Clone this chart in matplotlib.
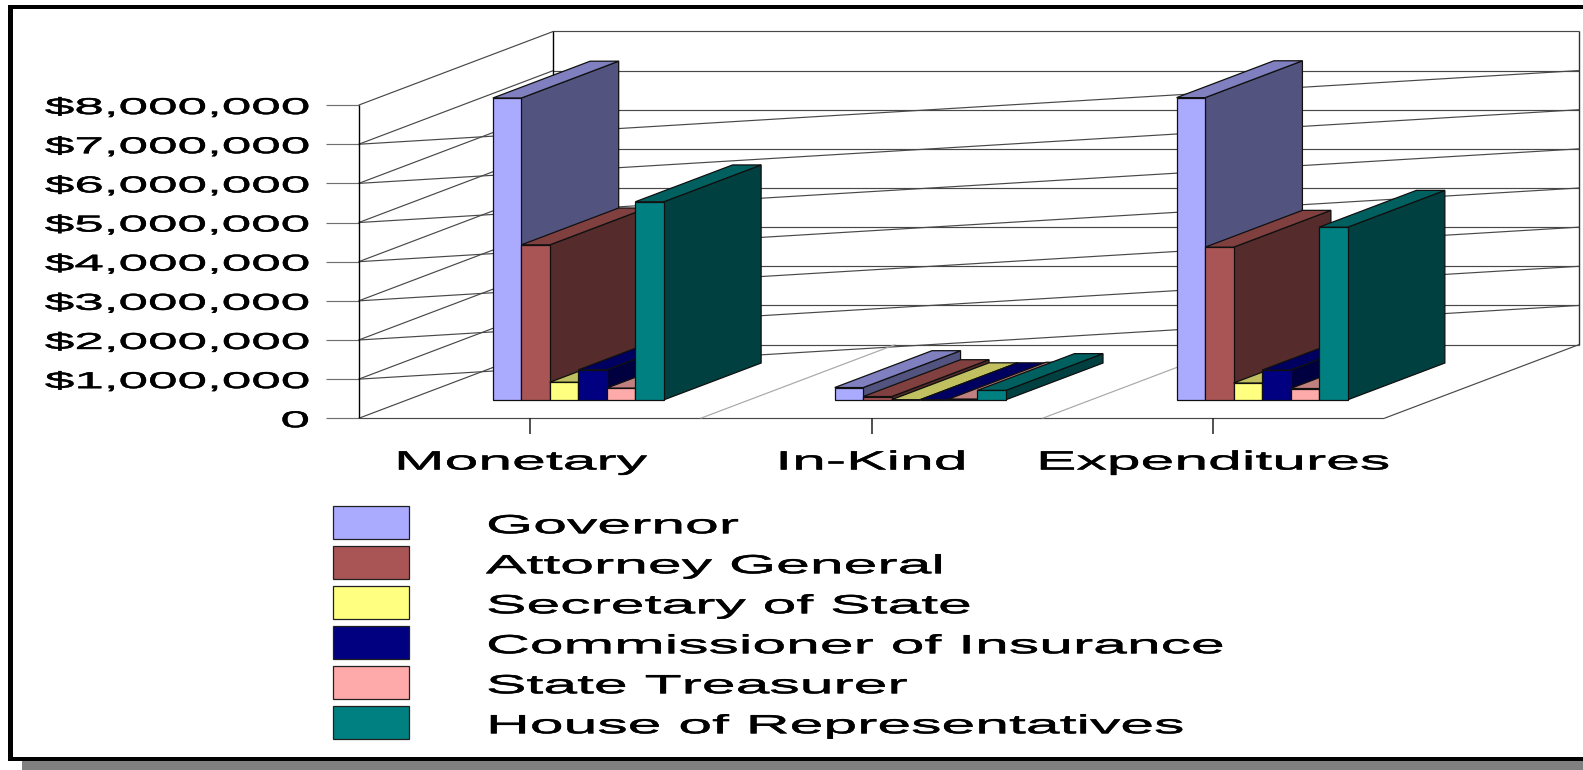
import matplotlib
matplotlib.use("Agg")
import matplotlib.pyplot as plt
from matplotlib import font_manager as fm
from matplotlib import patheffects as pe
from matplotlib.patches import Polygon, Rectangle
from fontTools.ttLib import TTFont

# ---------- data ----------
categories = ["Monetary", "In-Kind", "Expenditures"]
series_names = ["Governor", "Attorney General", "Secretary of State",
                "Commissioner of Insurance", "State Treasurer",
                "House of Representatives"]
governor = [7710000, 315000, 7720000]
attorney_general = [3960000, 85000, 3900000]
secretary_of_state = [450000, 5000, 430000]
commissioner = [766000, 5000, 760000]
treasurer = [300000, 20000, 290000]
house = [5060000, 240000, 4410000]
series_values = [governor, attorney_general, secretary_of_state,
                 commissioner, treasurer, house]
axis_values = [0, 1000000, 2000000, 3000000, 4000000, 5000000, 6000000, 7000000, 8000000]
axis_labels = ["0", "$1,000,000", "$2,000,000", "$3,000,000", "$4,000,000",
               "$5,000,000", "$6,000,000", "$7,000,000", "$8,000,000"]

# ---------- style ----------
front_colors = ["#AAAAFF", "#AA5555", "#FFFF80", "#000080", "#FFAAAA", "#008080"]
top_colors = ["#8080C0", "#804040", "#C0C060", "#000060", "#C08080", "#006060"]
side_colors = ["#535380", "#552B2B", "#808040", "#000040", "#805555", "#004040"]

W, H = 1583, 770
PLOT_L, CAT_W = 358.7, 341.87
FLOOR_Y, UNIT_H = 418.3, 39.15
DEPTH_X, DEPTH_Y = 194.7, 73.7
N_SERIES = len(series_names)


def stretched_font(factor, family):
    """Liberation Sans widened horizontally, as in the reference's stretched picture."""
    src = fm.findfont("Liberation Sans")
    font = TTFont(src)
    glyf = font["glyf"]
    hmtx = font["hmtx"]
    for name in glyf.keys():
        g = glyf[name]
        if g.isComposite():
            for c in g.components:
                c.x = round(c.x * factor)
        elif g.numberOfContours > 0:
            coords = g.coordinates
            for i in range(len(coords)):
                x, y = coords[i]
                coords[i] = (round(x * factor), y)
        if hasattr(g, "removeHinting"):
            g.removeHinting()
        adv, lsb = hmtx.metrics[name]
        hmtx.metrics[name] = (round(adv * factor), round(lsb * factor))
    for tag in ["kern", "GPOS", "GSUB", "GDEF", "hdmx", "VDMX", "LTSH", "fpgm", "prep", "cvt "]:
        if tag in font:
            del font[tag]
    for rec in font["name"].names:
        if rec.nameID in (1, 16):
            rec.string = family
        elif rec.nameID == 4:
            rec.string = family
        elif rec.nameID == 6:
            rec.string = family.replace(" ", "")
    path = "stretched.ttf"
    font.save(path)
    fm.fontManager.addfont(path)
    return family


FAMILY = stretched_font(2.3, "Liberation Stretched")
HEAVY = [pe.withStroke(linewidth=0.3, foreground="black")]

fig = plt.figure(figsize=(W / 100, H / 100), dpi=100, facecolor="white")
ax = fig.add_axes([0, 0, 1, 1])
ax.set_xlim(0, W)
ax.set_ylim(H, 0)
ax.axis("off")


def project(cat_pos, value, depth):
    """Oblique projection: category position, dollar value, depth 0..1 to canvas."""
    return (PLOT_L + cat_pos * CAT_W + depth * DEPTH_X,
            FLOOR_Y - value / 1e6 * UNIT_H - depth * DEPTH_Y)


def line(p, q, color, lw=0.85, z=1):
    ax.plot([p[0], q[0]], [p[1], q[1]], color=color, lw=lw, zorder=z,
            solid_capstyle="butt")


# frame and shadow
ax.add_patch(Rectangle((21.8, 761), W, 9, fc="#808080", ec="none", zorder=0))
ax.add_patch(Rectangle((8.3, 5), W, 4.4, fc="black", ec="none", zorder=0.5))
ax.add_patch(Rectangle((8.3, 757), W, 4.4, fc="black", ec="none", zorder=0.5))
ax.add_patch(Rectangle((8.3, 5), 4.4, 756, fc="black", ec="none", zorder=0.5))

# walls and gridlines
n_cat = len(categories)
vmax = axis_values[-1]
GRID, FLOOR = "#484848", "#A8A8A8"
for v in axis_values:
    line((326, project(0, v, 0)[1]), project(0, v, 0), "#707070")
    line(project(0, v, 0), project(0, v, 1), GRID)
    line(project(0, v, 1), project(n_cat, v, 1), GRID)
    if 0 < v < vmax:
        line(project(0, v, 0), project(n_cat, v, 1), GRID)
line(project(0, 0, 0), project(0, vmax, 0), "black", 1.0)
line(project(0, 0, 1), project(0, vmax, 1), "black", 1.0)
line(project(n_cat, 0, 1), project(n_cat, vmax, 1), "#303030", 1.0)
line(project(0, 0, 0), project(n_cat, 0, 0), GRID)
line(project(n_cat, 0, 0), project(n_cat, 0, 1), GRID)
for i in range(1, n_cat):
    line(project(i, 0, 0), project(i, 0, 1), FLOOR)
for i in range(n_cat):
    px, py = project(i + 0.5, 0, 0)
    line((px, py), (px, py + 16), "#202020", 1.1)

# bars
bar_w = 0.5 / N_SERIES
z = 2
for c in range(n_cat):
    for s in range(N_SERIES):
        v = series_values[s][c]
        a = c + 0.25 + s * bar_w
        b = a + bar_w
        front = [project(a, 0, .25), project(b, 0, .25), project(b, v, .25), project(a, v, .25)]
        side = [project(b, 0, .25), project(b, 0, .75), project(b, v, .75), project(b, v, .25)]
        top = [project(a, v, .25), project(b, v, .25), project(b, v, .75), project(a, v, .75)]
        for pts, col in ((side, side_colors[s]), (top, top_colors[s]), (front, front_colors[s])):
            ax.add_patch(Polygon(pts, closed=True, fc=col, ec="#101010", lw=0.9,
                                 joinstyle="miter", zorder=z))
            z += 0.01

# axis labels
for v, lab in zip(axis_values, axis_labels):
    ax.text(310, project(0, v, 0)[1] + 2.5, lab, ha="right", va="center",
            family=FAMILY, fontsize=16.6, color="black", zorder=5, path_effects=HEAVY)
for i, lab in enumerate(categories):
    ax.text(project(i + 0.5, 0, 0)[0] - (9 if i == 0 else 0), 462.5, lab, ha="center", va="center",
            family=FAMILY, fontsize=19.0, color="black", zorder=5, path_effects=HEAVY)

# legend
for s, name in enumerate(series_names):
    y0 = 506.3 + s * 40
    ax.add_patch(Rectangle((333, y0), 76.5, 32.5, fc=front_colors[s], ec="#202020",
                           lw=0.9, zorder=5))
    ax.text(486, y0 + 20, name, ha="left", va="center", family=FAMILY,
            fontsize=19.0, color="black", zorder=5, path_effects=HEAVY)

fig.savefig("out.png", dpi=100, facecolor="white")
